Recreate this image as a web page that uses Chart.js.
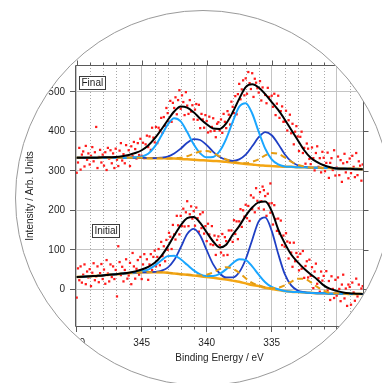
<!DOCTYPE html>
<html>
<head>
<meta charset="utf-8">
<title>Pd 3d XPS - Final / Initial</title>
<script src="https://cdn.jsdelivr.net/npm/chart.js@4.4.1/dist/chart.umd.min.js"></script>
<style>
    html, body { margin: 0; padding: 0; width: 382px; height: 383px; overflow: hidden; background: #fff; }
    #lens {
        position: absolute; left: 15px; top: 10px;
        width: 376px; height: 376px; box-sizing: border-box;
        border: 1px solid #9a9a9a; border-radius: 50%;
        overflow: hidden; background: #fff;
    }
    #lens canvas { position: absolute; left: -16px; top: -11px; }
</style>
</head>
<body>
<div id="lens"><canvas id="mychart" width="382" height="383" style="width:382px;height:383px"></canvas></div>
<script>
// measured counts, one point every 0.1 eV from 350.0 down to 328.0 eV
var scanStart = 350.0;
var scanStep = 0.1;

var finalCounts = [
    295, 321, 358, 303, 341, 349, 311, 363, 328, 344,
    316, 338, 360, 324, 347, 411, 307, 335, 353, 321,
    341, 313, 347, 302, 358, 331, 352, 319, 344, 307,
    356, 328, 312, 351, 370, 326, 342, 319, 365, 337,
    352, 312, 362, 337, 373, 355, 331, 370, 340, 381,
    338, 371, 332, 367, 389, 360, 387, 353, 409, 384,
    372, 411, 370, 409, 403, 434, 396, 436, 414, 459,
    446, 424, 477, 424, 472, 459, 486, 443, 479, 504,
    457, 491, 474, 441, 499, 465, 444, 479, 450, 466,
    430, 455, 469, 429, 467, 408, 444, 430, 409, 441,
    426, 397, 437, 400, 411, 433, 401, 385, 419, 423,
    402, 430, 396, 444, 424, 408, 451, 442, 417, 475,
    462, 446, 489, 443, 494, 520, 481, 506, 529, 491,
    534, 495, 550, 522, 507, 547, 487, 533, 523, 509,
    498, 527, 478, 511, 251, 492, 471, 510, 487, 268,
    490, 462, 495, 441, 470, 490, 434, 451, 463, 424,
    425, 452, 402, 428, 442, 395, 419, 367, 399, 413,
    387, 350, 386, 399, 345, 358, 318, 369, 356, 330,
    317, 359, 332, 301, 345, 362, 310, 332, 296, 348,
    333, 299, 320, 346, 282, 320, 332, 302, 352, 288,
    308, 336, 289, 327, 272, 319, 343, 296, 322, 281,
    331, 294, 338, 310, 284, 345, 289, 324, 313, 275,
    316
];

var initialCounts = [
    -21, 53, 23, 58, 17, 37, 63, 13, 45, 30,
    51, 8, 42, 66, 23, 33, 58, 18, 41, 64,
    26, 50, 14, 74, 40, 20, 63, 31, 58, 26,
    49, -18, 109, 69, 36, 57, 20, 49, 76, 27,
    35, 67, 13, 92, 58, 27, 52, 74, 37, 82,
    26, 63, 89, 45, 76, 24, 63, 89, 49, 82,
    98, 58, 82, 102, 61, 120, 84, 109, 71, 125,
    100, 143, 133, 102, 163, 139, 126, 186, 162, 139,
    186, 160, 204, 159, 195, 223, 160, 190, 210, 179,
    198, 161, 207, 180, 146, 190, 155, 195, 141, 160,
    122, 166, 139, 114, 160, 112, 136, 87, 125, 134,
    112, 93, 140, 86, 132, 122, 87, 149, 126, 149,
    120, 175, 140, 172, 127, 172, 203, 158, 200, 184,
    214, 180, 211, 173, 238, 203, 232, 195, 256, 224,
    205, 246, 223, 260, 202, 236, 186, 242, 217, 194,
    218, 164, 213, 178, 148, 179, 141, 174, 112, 136,
    108, 142, 121, 78, 118, 93, 57, 118, 71, 92,
    82, 48, 90, 52, 97, 29, 59, 71, 30, 75,
    34, 56, 3, 45, 65, 14, 28, -6, 45, 22,
    34, -8, 46, -3, 21, -27, 33, 1, -22, 24,
    -16, 30, 1, -30, 12, 37, -23, 2, -42, 12,
    6, -39, 17, -8, -29, 27, -18, 12, -48, 2,
    8
];

// fitted curves, sampled every 0.5 eV
var fitEnergy = [350, 349.5, 349, 348.5, 348, 347.5, 347, 346.5, 346, 345.5,
    345, 344.5, 344, 343.5, 343, 342.5, 342, 341.5, 341, 340.5,
    340, 339.5, 339, 338.5, 338, 337.5, 337, 336.5, 336, 335.5,
    335, 334.5, 334, 333.5, 333, 332.5, 332, 331.5, 331, 330.5,
    330, 329.5, 329, 328.5, 328];

var finalEnvelope = [333, 333, 333, 333, 334, 334, 335, 337, 340, 345,
    352, 364, 382, 404, 428, 450, 463, 460, 448, 432,
    418, 407, 406, 420, 448, 482, 512, 519, 511, 494,
    474, 454, 430, 404, 378, 352, 333, 322, 314, 309,
    306, 305, 305, 304, 304];
var finalLight = [333, 333, 333, 333, 333, 333, 333, 333, 333, 334,
    336, 343, 361, 388, 417, 433, 425, 398, 367, 344,
    334, 335, 350, 381, 424, 462, 471, 445, 399, 356,
    329, 316, 311, 310, 309, 309, 308, 308, 307, 307,
    306, 306, 305, 305, 304];
var finalDark = [333, 333, 333, 333, 333, 333, 333, 333, 333, 333,
    333, 332, 332, 333, 336, 344, 356, 371, 380, 378,
    365, 348, 335, 328, 325, 329, 341, 362, 385, 398,
    390, 368, 342, 324, 314, 310, 308, 308, 307, 307,
    306, 306, 305, 305, 304];
var finalSat = [333, 333, 333, 333, 333, 333, 333, 333, 333, 333,
    333, 332, 332, 332, 331, 332, 333, 337, 343, 349,
    350, 345, 336, 329, 323, 320, 319, 323, 329, 339,
    345, 343, 334, 323, 315, 311, 308, 308, 307, 307,
    306, 306, 305, 305, 304];
var finalBackground = [333, 333, 333, 333, 333, 333, 333, 333, 333, 333,
    333, 332, 332, 332, 331, 331, 330, 329, 328, 327,
    326, 325, 324, 323, 321, 319, 317, 316, 314, 313,
    312, 311, 310, 310, 309, 309, 308, 308, 307, 307,
    306, 306, 305, 305, 304];

var initialEnvelope = [31, 32, 33, 34, 35, 37, 38, 40, 42, 45,
    50, 57, 67, 84, 108, 136, 162, 180, 183, 168,
    144, 121, 106, 113, 138, 160, 186, 207, 220, 222,
    198, 152, 117, 88, 69, 52, 38, 25, 10, 1,
    -4, -8, -10, -11, -12];
var initialLight = [31, 32, 33, 34, 35, 37, 38, 40, 41, 43,
    46, 50, 60, 73, 84, 85, 76, 62, 48, 38,
    34, 34, 39, 51, 66, 76, 74, 58, 37, 18,
    6, 0, -4, -6, -7, -8, -9, -10, -10, -11,
    -11, -11, -12, -12, -12];
var initialDark = [31, 32, 33, 34, 35, 37, 38, 40, 41, 42,
    43, 43, 44, 47, 55, 74, 106, 140, 153, 136,
    99, 63, 40, 30, 30, 43, 76, 125, 172, 182,
    148, 90, 39, 10, -3, -7, -9, -10, -10, -11,
    -11, -11, -12, -12, -12];
var initialSat = [31, 32, 33, 34, 35, 37, 38, 40, 41, 42,
    43, 43, 43, 43, 42, 40, 38, 37, 36, 35,
    37, 43, 51, 56, 52, 42, 28, 16, 10, 5,
    3, 4, 10, 19, 27, 27, 18, 6, -3, -9,
    -10, -11, -12, -12, -12];
var initialBackground = [31, 32, 33, 34, 35, 37, 38, 40, 41, 42,
    43, 43, 43, 43, 42, 40, 38, 37, 35, 33,
    31, 29, 27, 25, 22, 19, 15, 11, 8, 4,
    1, -2, -4, -6, -7, -8, -9, -10, -10, -11,
    -11, -11, -12, -12, -12];

var panelNames = ['Final', 'Initial'];
var xTitle = 'Binding Energy / eV';
var yTitle = 'Intensity / Arb. Units';

var scanEnergy = finalCounts.map(function(_, i) {
    return Math.round((scanStart - i * scanStep) * 10) / 10;
});

var FONT = "'Liberation Sans', Arial, sans-serif";
Chart.defaults.font.family = FONT;
Chart.defaults.font.size = 10;
Chart.defaults.color = '#1e1e1e';

function curve(ys, color, width, order, dash) {
    return {
        data: ys.map(function(y, i) { return { x: fitEnergy[i], y: y }; }),
        borderColor: color,
        borderWidth: width,
        borderDash: dash || [],
        pointRadius: 0,
        fill: false,
        cubicInterpolationMode: 'monotone',
        order: order
    };
}

function counts(ys) {
    return {
        data: ys.map(function(y, i) { return { x: scanEnergy[i], y: y }; }),
        showLine: false,
        pointStyle: 'rect',
        pointRadius: 1.6,
        pointBackgroundColor: '#ff1a1a',
        pointBorderWidth: 0,
        order: 9
    };
}

var LIGHT = '#1aa6ff', DARK = '#1f3fc4', SAT = '#e59c12', BG = '#f4a614';

// minor grid, mirrored ticks, frame and the two panel captions
var axisDecor = {
    id: 'axisDecor',
    beforeDatasetsDraw: function(chart) {
        var ctx = chart.ctx, a = chart.chartArea, x = chart.scales.x;
        ctx.save();
        ctx.strokeStyle = '#a8a8a8';
        ctx.lineWidth = 1;
        ctx.setLineDash([1, 2]);
        for (var e = Math.ceil(x.min); e <= x.max; e++) {
            if (e % 5 === 0) continue;
            var px = Math.round(x.getPixelForValue(e)) + 0.5;
            ctx.beginPath();
            ctx.moveTo(px, a.top);
            ctx.lineTo(px, a.bottom);
            ctx.stroke();
        }
        ctx.restore();
    },
    afterDatasetsDraw: function(chart) {
        var ctx = chart.ctx, a = chart.chartArea, x = chart.scales.x, y = chart.scales.y;
        var L = Math.round(a.left) + 0.5, R = Math.round(a.right) - 0.5;
        var T = Math.round(a.top) + 0.5, B = Math.round(a.bottom) - 0.5;
        ctx.save();
        ctx.strokeStyle = '#5a5a5a';
        ctx.lineWidth = 1;
        ctx.beginPath();
        ctx.moveTo(L, T); ctx.lineTo(R, T); ctx.lineTo(R, B); ctx.lineTo(L, B); ctx.closePath();
        ctx.stroke();

        ctx.beginPath();
        for (var e = Math.ceil(x.min); e <= x.max; e++) {
            var px = Math.round(x.getPixelForValue(e)) + 0.5;
            var len = e % 5 === 0 ? 5 : 3;
            ctx.moveTo(px, T); ctx.lineTo(px, T - len);
            if (e % 5 !== 0) { ctx.moveTo(px, B); ctx.lineTo(px, B + len); }
        }
        y.ticks.forEach(function(t) {
            var py = Math.round(y.getPixelForValue(t.value)) + 0.5;
            ctx.moveTo(R, py); ctx.lineTo(R + 5, py);
        });
        ctx.stroke();

        // captions
        var anchors = [[349.82, 541], [348.8, 165]];
        ctx.font = '10px ' + FONT;
        ctx.textBaseline = 'middle';
        ctx.textAlign = 'left';
        panelNames.forEach(function(name, i) {
            var bx = Math.round(x.getPixelForValue(anchors[i][0])) + 0.5;
            var by = Math.round(y.getPixelForValue(anchors[i][1])) + 0.5;
            var w = Math.round(ctx.measureText(name).width) + 4;
            var h = 13;
            ctx.fillStyle = '#fff';
            ctx.fillRect(bx, by, w, h);
            ctx.strokeStyle = '#3c3c3c';
            ctx.strokeRect(bx, by, w, h);
            ctx.fillStyle = '#1e1e1e';
            ctx.fillText(name, bx + 2, by + h / 2 + 0.5);
        });
        ctx.restore();
    }
};

var myChart = new Chart(document.getElementById('mychart'), {
    type: 'line',
    data: {
        datasets: [
            curve(finalEnvelope, '#000000', 2, 1),
            curve(finalSat, SAT, 2, 2, [6, 4]),
            curve(finalLight, LIGHT, 2, 3),
            curve(finalDark, DARK, 1.8, 4),
            curve(finalBackground, BG, 2.5, 5),
            counts(finalCounts),
            curve(initialEnvelope, '#000000', 2, 1),
            curve(initialSat, SAT, 2, 2, [6, 4]),
            curve(initialLight, LIGHT, 2, 3),
            curve(initialDark, DARK, 1.8, 4),
            curve(initialBackground, BG, 2.5, 5),
            counts(initialCounts)
        ]
    },
    options: {
        responsive: false,
        devicePixelRatio: 1,
        animation: false,
        layout: { padding: { left: 0, right: 18, top: 65, bottom: 0 } },
        plugins: {
            legend: { display: false },
            tooltip: { enabled: false }
        },
        scales: {
            x: {
                type: 'linear',
                reverse: true,
                min: 327.9,
                max: 350.13,
                afterFit: function(scale) { scale.height = 56; },
                ticks: { stepSize: 5, includeBounds: false, padding: 5, maxRotation: 0, autoSkip: false },
                grid: { color: '#c4c4c4', tickLength: 5, tickColor: '#5a5a5a' },
                border: { display: false },
                title: { display: true, text: xTitle, font: { size: 10 }, padding: { top: 0, bottom: 19 } }
            },
            y: {
                min: -95.4,
                max: 567.8,
                afterFit: function(scale) { scale.width = 75; },
                ticks: { stepSize: 100, includeBounds: false, padding: 5 },
                grid: { color: '#c4c4c4', tickLength: 5, tickColor: '#5a5a5a' },
                border: { display: false },
                title: { display: true, text: yTitle, font: { size: 10 }, padding: { top: 24, bottom: 0 } }
            }
        }
    },
    plugins: [axisDecor]
});
</script>
</body>
</html>
